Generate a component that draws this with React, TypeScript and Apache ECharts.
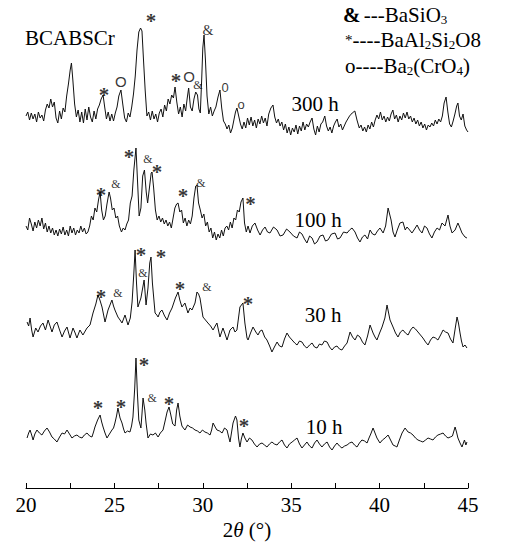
import React, { useEffect, useRef } from "react";
import * as echarts from "echarts";

const FONT = "'Liberation Serif', 'Times New Roman', serif";
const SANS = "'Liberation Sans', Arial, sans-serif";

// 2θ ticks
const xMin = 20;
const xMax = 45;
const xStep = 5;

// Stacked intensities (a.u.), [2θ, intensity]
const trace300h: number[][] = [
  [20.0,372],[20.1,376],[20.2,368],[20.3,375],[20.4,369],[20.5,374],[20.6,366],[20.7,376],[20.8,370],[20.9,373],
  [21.0,367],[21.1,378],[21.2,384],[21.3,380],[21.4,389],[21.5,381],[21.6,386],[21.7,370],[21.8,365],[21.9,377],
  [22.0,369],[22.1,380],[22.2,376],[22.3,392],[22.4,404],[22.5,418],[22.57,425],[22.65,408],[22.75,384],[22.85,371],
  [22.95,378],[23.05,366],[23.15,376],[23.25,365],[23.35,379],[23.45,368],[23.55,381],[23.65,371],[23.75,366],[23.85,377],
  [23.95,369],[24.05,379],[24.15,383],[24.25,389],[24.36,393],[24.45,381],[24.55,369],[24.65,376],[24.75,367],[24.85,374],
  [24.95,367],[25.05,375],[25.15,381],[25.25,392],[25.37,398],[25.48,383],[25.58,370],[25.68,366],[25.78,375],[25.88,371],
  [25.98,381],[26.08,394],[26.18,412],[26.28,438],[26.38,456],[26.48,460],[26.56,457],[26.64,430],[26.74,398],[26.84,372],
  [26.94,376],[27.04,368],[27.14,377],[27.24,369],[27.34,374],[27.44,366],[27.54,375],[27.64,379],[27.74,371],[27.84,383],
  [27.94,377],[28.04,389],[28.14,384],[28.24,393],[28.34,390],[28.43,401],[28.53,386],[28.63,374],[28.73,381],[28.83,371],
  [28.93,384],[29.03,377],[29.12,390],[29.2,400],[29.3,381],[29.4,377],[29.5,389],[29.6,396],[29.7,393],[29.78,379],
  [29.86,375],[29.94,410],[30.0,440],[30.07,453],[30.15,428],[30.24,392],[30.34,374],[30.44,381],[30.54,372],[30.64,377],
  [30.74,381],[30.86,391],[30.97,398],[31.07,380],[31.17,367],[31.27,364],[31.37,359],[31.47,363],[31.57,355],[31.67,360],
  [31.77,369],[31.85,376],[31.93,380],[32.03,372],[32.13,364],[32.23,359],[32.33,366],[32.43,360],[32.53,370],[32.63,363],
  [32.73,371],[32.83,362],[32.93,368],[33.03,360],[33.13,369],[33.23,364],[33.33,372],[33.43,365],[33.53,370],[33.63,362],
  [33.73,374],[33.85,380],[33.97,383],[34.07,371],[34.17,365],[34.27,369],[34.37,362],[34.47,366],[34.57,358],[34.67,364],
  [34.77,355],[34.87,361],[34.97,353],[35.07,360],[35.17,356],[35.27,363],[35.37,354],[35.47,362],[35.57,357],[35.67,366],
  [35.77,358],[35.87,364],[35.97,361],[36.07,366],[36.18,370],[36.28,359],[36.38,353],[36.48,362],[36.58,356],[36.68,364],
  [36.78,366],[36.9,372],[37.0,362],[37.1,357],[37.2,361],[37.3,355],[37.4,362],[37.5,366],[37.6,369],[37.7,361],
  [37.8,364],[37.9,358],[38.0,362],[38.1,366],[38.2,369],[38.3,372],[38.45,375],[38.6,377],[38.72,368],[38.85,360],
  [38.95,363],[39.05,357],[39.15,361],[39.25,356],[39.35,363],[39.45,359],[39.55,366],[39.65,361],[39.75,368],[39.85,373],
  [39.95,369],[40.05,376],[40.15,368],[40.25,372],[40.35,366],[40.45,371],[40.55,367],[40.65,374],[40.75,378],[40.85,369],
  [40.95,373],[41.05,366],[41.15,372],[41.25,368],[41.35,375],[41.45,370],[41.55,376],[41.65,369],[41.75,372],[41.85,366],
  [41.95,370],[42.05,364],[42.15,368],[42.25,362],[42.35,366],[42.45,360],[42.55,364],[42.65,358],[42.75,363],[42.85,361],
  [42.95,365],[43.05,362],[43.15,368],[43.25,364],[43.35,369],[43.45,366],[43.55,372],[43.65,385],[43.76,391],[43.86,376],
  [43.96,364],[44.06,361],[44.16,367],[44.26,374],[44.36,382],[44.43,385],[44.52,372],[44.62,368],[44.72,374],[44.82,362],
  [44.92,358],[45.0,356]
];

const trace100h: number[][] = [
  [20.0,262],[20.1,258],[20.2,270],[20.3,264],[20.4,257],[20.5,266],[20.6,260],[20.7,268],[20.8,262],[20.9,270],
  [21.0,259],[21.1,265],[21.2,256],[21.3,262],[21.4,255],[21.5,260],[21.6,253],[21.7,258],[21.8,252],[21.9,259],
  [22.0,254],[22.1,261],[22.2,253],[22.3,258],[22.4,252],[22.5,262],[22.6,255],[22.7,260],[22.8,253],[22.9,258],
  [23.0,255],[23.1,262],[23.2,256],[23.3,260],[23.4,254],[23.5,256],[23.6,262],[23.7,272],[23.8,268],[23.9,280],
  [24.0,276],[24.1,288],[24.19,296],[24.28,278],[24.38,268],[24.48,272],[24.58,284],[24.7,296],[24.78,290],[24.88,278],
  [24.98,280],[25.08,270],[25.18,272],[25.28,262],[25.4,256],[25.5,260],[25.6,258],[25.7,264],[25.8,268],[25.9,285],
  [26.0,292],[26.1,318],[26.22,340],[26.3,310],[26.4,272],[26.5,280],[26.6,312],[26.7,318],[26.8,296],[26.88,285],
  [26.98,300],[27.08,315],[27.13,316],[27.22,300],[27.32,278],[27.42,268],[27.52,272],[27.62,266],[27.72,270],[27.82,264],
  [27.92,268],[28.02,262],[28.12,266],[28.22,260],[28.32,270],[28.42,280],[28.52,284],[28.6,285],[28.7,276],[28.8,278],
  [28.9,265],[29.0,270],[29.1,262],[29.2,268],[29.3,264],[29.4,272],[29.5,290],[29.6,302],[29.67,303],[29.76,285],
  [29.86,278],[29.96,270],[30.06,274],[30.16,262],[30.26,266],[30.36,256],[30.46,260],[30.56,250],[30.66,256],[30.76,248],
  [30.86,254],[30.96,250],[31.06,258],[31.16,252],[31.26,260],[31.36,262],[31.46,258],[31.56,266],[31.66,260],[31.76,270],
  [31.86,268],[31.96,278],[32.06,276],[32.16,286],[32.27,290],[32.36,265],[32.46,256],[32.56,262],[32.67,255],[32.8,262],
  [32.95,265],[33.1,258],[33.24,253],[33.38,258],[33.52,261],[33.66,256],[33.8,255],[34.0,261],[34.2,258],[34.37,252],
  [34.54,253],[34.74,259],[34.93,256],[35.13,252],[35.33,250],[35.47,256],[35.61,254],[35.75,249],[35.89,245],[36.04,252],
  [36.18,250],[36.32,244],[36.46,246],[36.63,252],[36.8,253],[36.94,247],[37.08,248],[37.28,254],[37.48,255],[37.62,249],
  [37.76,250],[37.96,256],[38.16,255],[38.3,258],[38.44,260],[38.61,256],[38.75,250],[38.89,246],[39.03,251],[39.17,253],
  [39.32,249],[39.46,258],[39.6,254],[39.74,253],[39.88,257],[40.02,260],[40.2,255],[40.34,262],[40.48,280],[40.65,268],
  [40.76,256],[40.87,251],[41.0,258],[41.15,265],[41.32,266],[41.45,258],[41.55,261],[41.7,258],[41.83,255],[41.98,259],
  [42.12,263],[42.26,258],[42.4,255],[42.54,262],[42.68,260],[42.82,254],[42.96,250],[43.1,256],[43.25,260],[43.39,258],
  [43.53,265],[43.7,262],[43.87,273],[43.98,262],[44.1,255],[44.27,258],[44.43,265],[44.55,260],[44.66,255],[44.83,251],
  [44.94,250]
];

const trace30h: number[][] = [
  [20.06,166],[20.15,162],[20.23,170],[20.32,158],[20.4,151],[20.55,160],[20.68,156],[20.82,162],[20.96,165],[21.1,158],
  [21.25,168],[21.36,162],[21.47,156],[21.6,163],[21.75,166],[21.9,158],[22.04,151],[22.18,157],[22.32,161],[22.49,150],
  [22.66,160],[22.78,155],[22.88,150],[23.05,158],[23.22,153],[23.35,157],[23.45,160],[23.62,163],[23.79,175],[23.95,184],
  [24.07,193],[24.18,188],[24.3,181],[24.47,166],[24.64,178],[24.86,188],[24.95,182],[25.03,178],[25.2,171],[25.32,168],
  [25.43,165],[25.6,173],[25.77,163],[25.9,170],[26.0,186],[26.1,215],[26.17,238],[26.25,205],[26.33,181],[26.5,190],
  [26.68,208],[26.79,183],[26.9,200],[27.0,225],[27.07,231],[27.15,205],[27.3,175],[27.4,173],[27.47,171],[27.58,176],
  [27.69,178],[27.84,172],[27.98,168],[28.12,175],[28.26,180],[28.45,190],[28.6,196],[28.7,188],[28.82,181],[28.99,185],
  [29.16,175],[29.28,180],[29.39,178],[29.56,185],[29.67,196],[29.76,194],[29.84,190],[30.01,171],[30.15,168],[30.29,165],
  [30.44,162],[30.58,158],[30.7,162],[30.8,165],[30.97,151],[31.14,160],[31.26,154],[31.37,148],[31.54,158],[31.71,161],
  [31.82,156],[31.93,158],[32.1,181],[32.27,185],[32.38,165],[32.5,150],[32.56,148],[32.7,155],[32.84,161],[33.0,156],
  [33.12,153],[33.24,157],[33.35,158],[33.5,151],[33.63,148],[33.78,142],[33.91,136],[34.05,141],[34.2,146],[34.34,142],
  [34.48,141],[34.62,149],[34.76,155],[34.9,151],[35.05,148],[35.2,145],[35.33,143],[35.47,147],[35.61,146],[35.75,142],
  [35.89,140],[36.04,143],[36.18,145],[36.32,141],[36.46,140],[36.6,144],[36.74,143],[36.88,147],[37.03,146],[37.17,141],
  [37.31,138],[37.45,141],[37.59,142],[37.73,139],[37.87,138],[38.02,142],[38.16,145],[38.33,156],[38.47,151],[38.61,148],
  [38.75,153],[38.89,151],[39.03,146],[39.17,143],[39.32,152],[39.46,163],[39.63,155],[39.74,151],[39.85,148],[40.0,155],
  [40.14,161],[40.3,170],[40.42,183],[40.59,168],[40.76,161],[40.9,155],[41.04,151],[41.18,156],[41.32,158],[41.46,155],
  [41.61,153],[41.75,158],[41.89,161],[42.03,159],[42.17,156],[42.31,153],[42.45,150],[42.6,146],[42.74,143],[42.88,148],
  [43.02,151],[43.16,150],[43.3,148],[43.45,153],[43.59,158],[43.73,156],[43.87,155],[44.01,149],[44.15,145],[44.28,160],
  [44.38,171],[44.46,165],[44.55,155],[44.63,147],[44.72,141],[44.83,143],[44.94,140]
];

const trace10h: number[][] = [
  [20.06,50],[20.15,55],[20.23,58],[20.32,53],[20.4,48],[20.5,54],[20.62,58],[20.76,55],[20.9,53],[21.04,57],
  [21.19,60],[21.33,56],[21.47,51],[21.6,49],[21.75,46],[21.9,51],[22.04,55],[22.18,54],[22.32,58],[22.46,54],
  [22.6,50],[22.74,52],[22.88,53],[23.02,51],[23.17,50],[23.3,53],[23.45,55],[23.6,52],[23.73,51],[23.82,56],
  [23.9,61],[24.05,68],[24.19,73],[24.28,66],[24.36,61],[24.47,55],[24.58,50],[24.72,54],[24.86,58],[24.95,60],
  [25.03,65],[25.12,72],[25.2,80],[25.32,70],[25.43,65],[25.52,59],[25.6,55],[25.74,57],[25.88,56],[25.97,62],
  [26.05,71],[26.15,100],[26.22,130],[26.3,95],[26.38,68],[26.5,60],[26.56,74],[26.62,90],[26.72,78],[26.79,65],
  [26.9,50],[27.04,54],[27.18,53],[27.32,55],[27.47,51],[27.6,55],[27.75,58],[27.88,68],[27.98,76],[28.09,81],
  [28.18,74],[28.3,64],[28.43,62],[28.52,78],[28.6,85],[28.7,72],[28.82,62],[28.9,60],[28.99,58],[29.14,63],
  [29.28,61],[29.42,60],[29.56,58],[29.7,57],[29.84,55],[29.98,58],[30.12,56],[30.26,55],[30.41,53],[30.5,58],
  [30.58,65],[30.7,61],[30.8,58],[30.95,57],[31.09,55],[31.23,60],[31.37,58],[31.45,52],[31.54,46],[31.62,55],
  [31.71,65],[31.85,72],[31.93,68],[32.02,50],[32.1,41],[32.18,49],[32.27,55],[32.38,50],[32.5,46],[32.64,50],
  [32.78,48],[32.92,44],[33.07,41],[33.21,44],[33.35,45],[33.49,43],[33.63,41],[33.77,44],[33.91,46],[34.05,44],
  [34.2,43],[34.34,46],[34.48,48],[34.62,43],[34.76,40],[34.9,44],[35.05,46],[35.19,48],[35.33,50],[35.47,44],
  [35.61,40],[35.75,43],[35.89,46],[36.04,42],[36.18,40],[36.32,45],[36.46,48],[36.6,44],[36.74,41],[36.88,44],
  [37.03,46],[37.17,41],[37.31,38],[37.45,42],[37.59,45],[37.73,42],[37.87,40],[38.02,42],[38.16,43],[38.3,45],
  [38.44,46],[38.58,43],[38.72,41],[38.86,45],[39.0,48],[39.15,47],[39.29,45],[39.4,50],[39.5,54],[39.63,60],
  [39.74,55],[39.85,50],[40.02,45],[40.16,48],[40.31,50],[40.48,53],[40.62,48],[40.76,43],[40.88,42],[40.98,41],
  [41.12,48],[41.27,55],[41.44,60],[41.61,56],[41.75,55],[41.89,53],[42.03,50],[42.17,48],[42.31,47],[42.45,46],
  [42.6,48],[42.74,50],[42.88,49],[43.02,48],[43.16,51],[43.3,53],[43.45,54],[43.59,55],[43.73,52],[43.87,50],
  [44.0,51],[44.12,52],[44.27,61],[44.35,56],[44.43,50],[44.55,45],[44.66,41],[44.8,48],[44.88,43],[44.94,46]
];

// Phase markers: [2θ, intensity, symbol]
const markerTheta = [
  27.07, 24.41, 25.37, 28.48, 29.22, 29.73, 30.29, 31.26, 32.16,
  24.24, 25.09, 25.83, 26.9, 27.41, 28.88, 29.9, 32.7,
  24.24, 25.2, 26.5, 26.62, 27.64, 28.71, 30.24, 32.56,
  24.07, 25.37, 26.68, 27.13, 28.09, 32.33
];
const markerValue = [
  471, 397, 406, 411, 411, 403, 457, 400, 383,
  297, 304, 335, 329, 320, 296, 305, 288,
  195, 195, 237, 215, 235, 203, 201, 188,
  84, 85, 127, 90, 88, 66
];
const markerText = [
  "*", "*", "O", "*", "O", "&", "&big", "0", "o",
  "*", "&", "*", "&", "*", "*", "&", "*",
  "*", "&", "*", "&", "*", "*", "&", "*",
  "*", "*", "*", "&", "*", "*"
];

const sampleName = "BCABSCr";
const traceLabels = ["300 h", "100 h", "30 h", "10 h"];

const markerStyle = (t: string) => {
  if (t === "*") return { formatter: "*", fontSize: 21, fontWeight: "bold", fontFamily: FONT, offset: [0, 4] };
  if (t === "&") return { formatter: "&", fontSize: 12, fontFamily: FONT, offset: [0, 0] };
  if (t === "&big") return { formatter: "&", fontSize: 14, fontFamily: FONT, offset: [0, 0] };
  if (t === "O") return { formatter: "O", fontSize: 15, fontFamily: SANS, offset: [0, 0] };
  if (t === "0") return { formatter: "0", fontSize: 13, fontFamily: SANS, offset: [0, 0] };
  return { formatter: "o", fontSize: 13, fontFamily: SANS, offset: [0, 0] };
};

export default function App() {
  const ref = useRef<HTMLDivElement>(null);
  useEffect(() => {
    if (!ref.current) return;
    const chart = echarts.init(ref.current, undefined, { renderer: "svg" });
    const lineStyle = { color: "#111", width: 1 };
    const traces = [trace300h, trace100h, trace30h, trace10h];
    const markers = markerTheta.map((t, i) => ({
      value: [t, markerValue[i]],
      label: {
        show: true,
        position: "top",
        distance: 0,
        align: "center",
        verticalAlign: "middle",
        color: "#000",
        ...markerStyle(markerText[i]),
      },
    }));
    const sub = { fontSize: 13, fontFamily: FONT, color: "#000", verticalAlign: "bottom", lineHeight: 10 };
    const norm = { fontSize: 21, fontFamily: FONT, color: "#000", lineHeight: 22 };
    const labelPos = [
      [315, 104],
      [318, 220],
      [323, 315],
      [324, 427],
    ];
    chart.setOption({
      animation: false,
      backgroundColor: "#fff",
      grid: { left: 26, right: 41, top: 10, bottom: 54, containLabel: false, outerBoundsMode: "none" },
      xAxis: {
        type: "value",
        min: xMin,
        max: xMax,
        interval: xStep,
        axisLine: { lineStyle: { color: "#000", width: 1 } },
        axisTick: { inside: true, length: 5, lineStyle: { color: "#000" } },
        minorTick: { show: true, splitNumber: 2, length: 5, lineStyle: { color: "#000" } },
        splitLine: { show: false },
        axisLabel: { fontSize: 21, fontFamily: FONT, color: "#000", margin: 6 },
        name: "{n|2}{i|θ}{n| (°)}",
        nameLocation: "middle",
        nameGap: 32,
        nameTextStyle: {
          lineHeight: 20,
          rich: {
            n: { fontSize: 21, fontFamily: FONT, color: "#000", lineHeight: 20 },
            i: { fontSize: 21, fontFamily: FONT, color: "#000", fontStyle: "italic", lineHeight: 20 },
          },
        },
      },
      yAxis: { type: "value", min: 0, max: 478, show: false },
      series: [
        ...traces.map((d) => ({
          type: "line",
          data: d,
          showSymbol: false,
          symbol: "none",
          lineStyle,
          silent: true,
        })),
        {
          type: "scatter",
          symbolSize: 1,
          itemStyle: { color: "rgba(0,0,0,0)" },
          label: { show: true, color: "#000" },
          data: markers,
          silent: true,
          z: 5,
        },
      ],
      graphic: [
        {
          type: "text",
          left: 25,
          top: 27,
          style: { text: sampleName, fontSize: 21, fontFamily: FONT, fill: "#000" },
        },
        ...traceLabels.map((t, i) => ({
          type: "text",
          x: labelPos[i][0],
          y: labelPos[i][1],
          style: { text: t, fontSize: 21, fontFamily: FONT, fill: "#000", align: "center", verticalAlign: "middle" },
        })),
        {
          type: "text",
          x: 343,
          y: 4,
          style: {
            text: "{b|&} {n|---BaSiO}{s|3}",
            rich: { b: { ...norm, fontWeight: "bold" }, n: norm, s: sub },
          },
        },
        {
          type: "text",
          x: 345,
          y: 29,
          style: {
            text: "{a|*}{n|----BaAl}{s|2}{n|Si}{s|2}{n|O8}",
            rich: { a: { ...norm, fontSize: 15 }, n: norm, s: sub },
          },
        },
        {
          type: "text",
          x: 345,
          y: 55,
          style: {
            text: "{n|o----Ba}{s|2}{n|(CrO}{s|4}{n|)}",
            rich: { n: norm, s: sub },
          },
        },
      ],
    });
    return () => chart.dispose();
  }, []);
  return (
    <div
      ref={ref}
      style={{ position: "fixed", left: 0, top: 0, width: 509, height: 542, background: "#fff" }}
    />
  );
}
